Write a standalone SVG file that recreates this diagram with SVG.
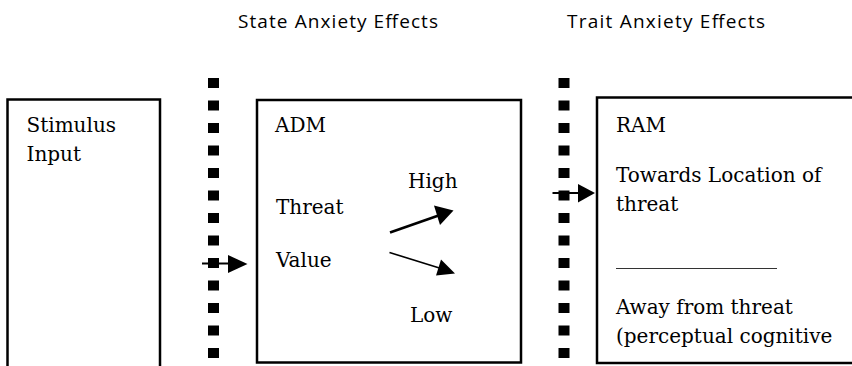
<svg xmlns="http://www.w3.org/2000/svg" width="852" height="366" viewBox="0 0 852 366">
<style>
.box{fill:#fff;stroke:#000;stroke-width:2.5}
.t{font-family:"DejaVu Serif","Liberation Serif",serif;font-size:20px;fill:#000}
.h{font-family:"Open Sans","Liberation Sans",sans-serif;font-size:19px;fill:#000}
.dot{fill:#000}
.ln{stroke:#000;fill:none}
</style>
<defs>
<rect id="d" width="11" height="10" class="dot"/>
</defs>
<rect width="852" height="366" fill="#fff"/>
<g id="headers">
<text class="h" x="238" y="28" textLength="200" lengthAdjust="spacing">State Anxiety Effects</text>
<text class="h" x="567" y="28" textLength="198" lengthAdjust="spacing">Trait Anxiety Effects</text>
</g>
<g id="state-divider">
<use href="#d" x="208" y="78"/><use href="#d" x="208" y="100.5"/><use href="#d" x="208" y="123"/><use href="#d" x="208" y="145.5"/><use href="#d" x="208" y="168"/><use href="#d" x="208" y="190.5"/><use href="#d" x="208" y="213"/><use href="#d" x="208" y="235.5"/><use href="#d" x="208" y="258"/><use href="#d" x="208" y="280.5"/><use href="#d" x="208" y="303"/><use href="#d" x="208" y="325.5"/><use href="#d" x="208" y="348"/>
</g>
<g id="trait-divider">
<use href="#d" x="558.5" y="78"/><use href="#d" x="558.5" y="100.5"/><use href="#d" x="558.5" y="123"/><use href="#d" x="558.5" y="145.5"/><use href="#d" x="558.5" y="168"/><use href="#d" x="558.5" y="190.5"/><use href="#d" x="558.5" y="213"/><use href="#d" x="558.5" y="235.5"/><use href="#d" x="558.5" y="258"/><use href="#d" x="558.5" y="280.5"/><use href="#d" x="558.5" y="303"/><use href="#d" x="558.5" y="325.5"/><use href="#d" x="558.5" y="348"/>
</g>
<g id="stimulus">
<rect class="box" x="7.5" y="99.5" width="152.5" height="268"/>
<text class="t" x="26.5" y="131.5">Stimulus</text>
<text class="t" x="26.5" y="161">Input</text>
</g>
<g id="adm">
<rect class="box" x="257" y="100" width="264" height="262.5"/>
<text class="t" x="275" y="131.5">ADM</text>
<text class="t" x="408" y="188">High</text>
<text class="t" x="276" y="213.5">Threat</text>
<text class="t" x="276" y="267">Value</text>
<text class="t" x="410" y="322">Low</text>
</g>
<g id="ram">
<rect class="box" x="597" y="97.5" width="270" height="265.5"/>
<text class="t" x="616" y="131.5">RAM</text>
<text class="t" x="616" y="182">Towards Location of</text>
<text class="t" x="616" y="211">threat</text>
<line x1="616" y1="268.5" x2="777" y2="268.5" stroke="#333" stroke-width="1"/>
<text class="t" x="616" y="314">Away from threat</text>
<text class="t" x="616" y="343">(perceptual cognitive</text>
</g>
<g id="connectors">
<line class="ln" x1="202" y1="263.5" x2="230" y2="263.5" stroke-width="2"/>
<polygon points="228,255 247.5,264 228,273" fill="#000"/>
<line class="ln" x1="552.5" y1="193" x2="580" y2="193" stroke-width="2"/>
<polygon points="578,184 595,193 578,202.5" fill="#000"/>
<line class="ln" x1="390" y1="232.5" x2="440" y2="215" stroke-width="2.6"/>
<polygon points="434,205.5 453.5,210.5 440,225" fill="#000"/>
<line class="ln" x1="389.5" y1="252.5" x2="441" y2="268.5" stroke-width="1.6"/>
<polygon points="441,259.5 455,273.5 436,275.5" fill="#000"/>
</g>
</svg>
